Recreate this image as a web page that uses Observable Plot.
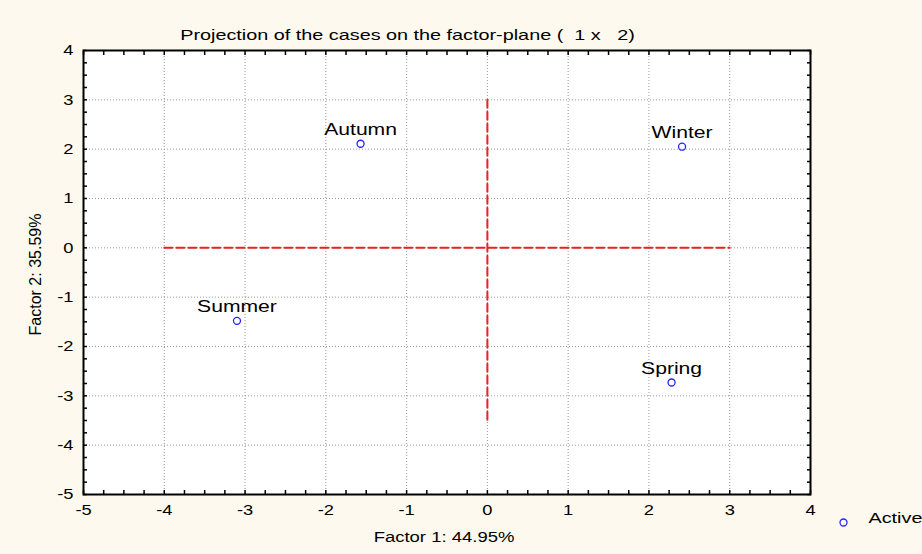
<!DOCTYPE html>
<html><head><meta charset="utf-8">
<script src="https://cdn.jsdelivr.net/npm/d3@7"></script>
<script src="https://cdn.jsdelivr.net/npm/@observablehq/plot@0.6"></script>
<style>body{margin:0;background:#fdf9ee;overflow:hidden}</style>
</head><body><div id="chart"></div><script>
const cases = ["Autumn", "Winter", "Summer", "Spring"];
const factor1 = [-1.57, 2.41, -3.10, 2.28];
const factor2 = [2.11, 2.05, -1.48, -2.73];
const xTicks = [-5, -4, -3, -2, -1, 0, 1, 2, 3, 4];
const yTicks = [-5, -4, -3, -2, -1, 0, 1, 2, 3, 4];
const hRefX = [-4, 3];
const hRefY = [0, 0];
const vRefX = [0, 0];
const vRefY = [3, -3.5];
const titleText = "Projection of the cases on the factor-plane (  1 x   2)";
const xLabel = "Factor 1: 44.95%";
const yLabel = "Factor 2: 35.59%";
const legendLabel = "Active";

const pts = cases.map((c, i) => ({name: c, x: factor1[i], y: factor2[i]}));
const hRef = hRefX.map((x, i) => ({x, y: hRefY[i]}));
const vRef = vRefX.map((x, i) => ({x, y: vRefY[i]}));
const minor = d3.range(-5, 4.001, 0.25);
const inner = xTicks.filter(t => t > -5 && t < 4);
const innerY = yTicks.filter(t => t > -5 && t < 4);
const font = "Liberation Sans, Arial, sans-serif";
const blue = "#2424ff";
const fmt = d => d < 0 ? "-" + Math.abs(d) : String(d);

const chart = Plot.plot({
  width: 922, height: 554,
  marginLeft: 83, marginRight: 112, marginTop: 50, marginBottom: 60,
  style: {background: "#fdf9ee", fontFamily: font},
  x: {domain: [-5, 4]},
  y: {domain: [-5, 4]},
  marks: [
    Plot.frame({fill: "white"}),
    Plot.gridX(inner, {stroke: "#999", strokeOpacity: 1, strokeDasharray: "1,2"}),
    Plot.gridY(innerY, {stroke: "#999", strokeOpacity: 1, strokeDasharray: "1,2"}),
    Plot.line(hRef, {x: "x", y: "y", stroke: "#e8231e", strokeWidth: 2, strokeDasharray: "8,4"}),
    Plot.line(vRef, {x: "x", y: "y", stroke: "#e8231e", strokeWidth: 2, strokeDasharray: "8,4"}),
    Plot.axisX({anchor: "bottom", ticks: minor, tickSize: -4, text: null, label: null, stroke: "black", strokeWidth: 1.5}),
    Plot.axisX({anchor: "top", ticks: minor, tickSize: -4, text: null, label: null, stroke: "black", strokeWidth: 1.5}),
    Plot.axisY({anchor: "left", ticks: minor, tickSize: -4, text: null, label: null, stroke: "black", strokeWidth: 1.5}),
    Plot.axisY({anchor: "right", ticks: minor, tickSize: -4, text: null, label: null, stroke: "black", strokeWidth: 1.5}),
    Plot.axisX({anchor: "bottom", ticks: xTicks, tickSize: 0, tickPadding: 10, label: null, fontSize: 15, fill: "black", tickFormat: fmt}),
    Plot.axisY({anchor: "left", ticks: yTicks, tickSize: 0, tickPadding: 10, label: null, fontSize: 15, fill: "black", tickFormat: fmt}),
    Plot.frame({stroke: "black", strokeWidth: 2}),
    Plot.dot(pts, {x: "x", y: "y", r: 3.5, stroke: blue, strokeWidth: 1.3, fill: "none"}),
    Plot.text(pts, {x: "x", y: "y", text: "name", dy: -14, fontSize: 16, fill: "black"}),
    Plot.text([titleText], {frameAnchor: "top-left", dx: 407 - 83, dy: -21, text: d => d, fontSize: 15, fill: "black", textAnchor: "middle"}),
    Plot.text([xLabel], {frameAnchor: "bottom", dx: -3, dy: 47, text: d => d, fontSize: 14, fill: "black", textAnchor: "middle"}),
    Plot.text([yLabel], {frameAnchor: "left", dx: -48, dy: 2, rotate: -90, text: d => d, fontSize: 16, fill: "black", textAnchor: "middle"}),
    Plot.dot([legendLabel], {frameAnchor: "bottom-right", dx: 33, dy: 28, r: 3.5, stroke: blue, strokeWidth: 1.3, fill: "none"}),
    Plot.text([legendLabel], {frameAnchor: "bottom-right", dx: 58, dy: 28, text: d => d, fontSize: 15, fill: "black", textAnchor: "start"})
  ]
});
document.getElementById("chart").append(chart);
// the reference's lettering is horizontally wide; stretch non-rotated texts
chart.querySelectorAll("text").forEach(t => {
  const tr = t.getAttribute("transform") || "";
  if (tr.includes("rotate")) return;
  const len = t.getComputedTextLength();
  if (len > 0) {
    const k = t.textContent.length <= 2 ? 1.22 : 1.32;
    t.setAttribute("textLength", len * k);
    t.setAttribute("lengthAdjust", "spacingAndGlyphs");
  }
});
</script></body></html>
